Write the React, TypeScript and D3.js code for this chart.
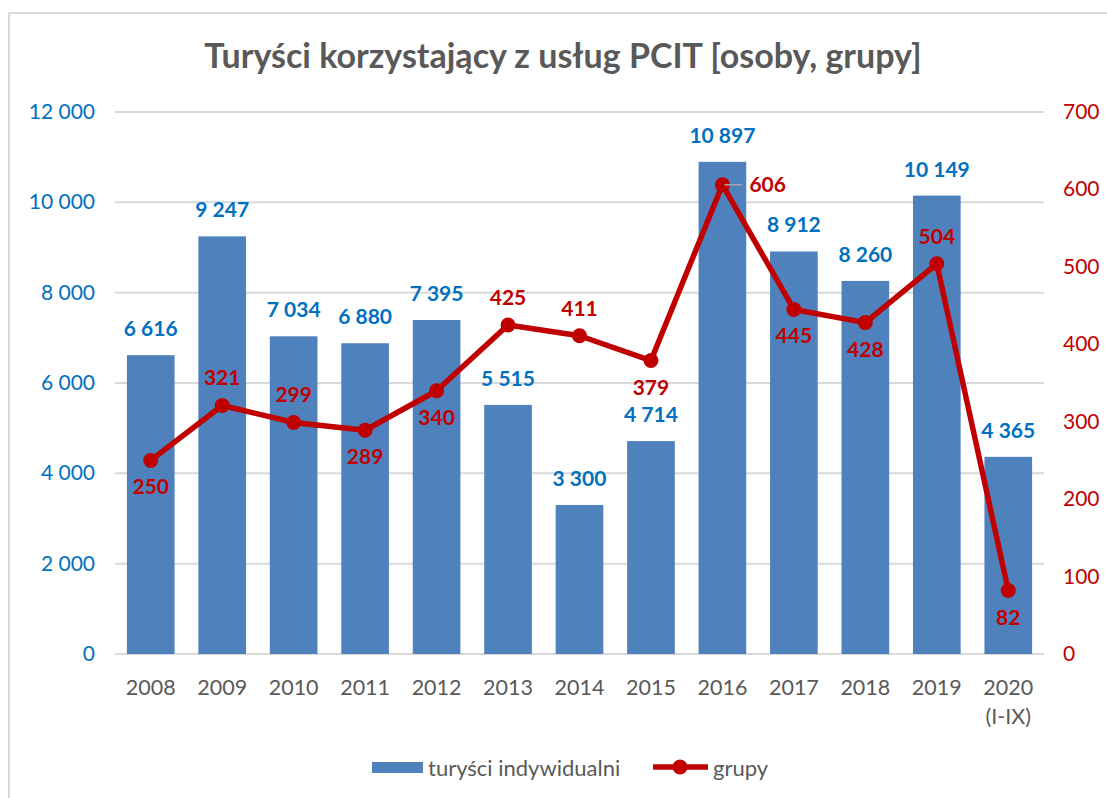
import React from "react";
import * as d3 from "d3";

const categories = ["2008", "2009", "2010", "2011", "2012", "2013", "2014", "2015", "2016", "2017", "2018", "2019", "2020\n(I-IX)"];
const individuals = [6616, 9247, 7034, 6880, 7395, 5515, 3300, 4714, 10897, 8912, 8260, 10149, 4365];
const groups = [250, 321, 299, 289, 340, 425, 411, 379, 606, 445, 428, 504, 82];
const groupLabelPos = ["below", "above", "above", "below", "below", "above", "above", "below", "right", "below", "below", "above", "below"];
const leftTicks = [0, 2000, 4000, 6000, 8000, 10000, 12000];
const rightTicks = [0, 100, 200, 300, 400, 500, 600, 700];
const title = "Turyści korzystający z usług PCIT [osoby, grupy]";
const seriesNames = ["turyści indywidualni", "grupy"];

const W = 1107, H = 798;
const FONT = "Lato, 'Open Sans', sans-serif";
const BAR = "#4F81BD";
const LINE = "#C00000";
const BLUE_TXT = "#0070C0";
const RED_TXT = "#C00000";
const GRAY = "#595959";

const fmt = (v: number) => {
  const s = String(v);
  return s.length > 3 ? s.slice(0, s.length - 3) + " " + s.slice(s.length - 3) : s;
};

export default function App() {
  const x = d3.scaleBand<string>().domain(categories).range([115, 1044]).paddingInner(0.333).paddingOuter(0.1665);
  const yL = d3.scaleLinear().domain([0, 12000]).range([654, 112]);
  const yR = d3.scaleLinear().domain([0, 700]).range([654, 112]);
  const cx = (c: string) => (x(c) as number) + x.bandwidth() / 2;
  const line = d3.line<number>().x((_, i) => cx(categories[i])).y((d) => yR(d));

  return (
    <svg width={W} height={H} style={{ position: "absolute", left: 0, top: 0, background: "#fff" }} fontFamily={FONT}>
      <rect x={9} y={13} width={W + 20} height={H + 20} fill="#fff" stroke="#D9D9D9" strokeWidth={2} />
      <text x={563} y={68} textAnchor="middle" fontSize={34} fontWeight="bold" fill={GRAY}>{title}</text>

      {leftTicks.map((t) => (
        <g key={"l" + t}>
          <line x1={115} x2={1044} y1={yL(t)} y2={yL(t)} stroke="#D9D9D9" strokeWidth={2} />
          <text x={95} y={yL(t) + 7} textAnchor="end" fontSize={21} fill={BLUE_TXT}>{fmt(t)}</text>
        </g>
      ))}
      {rightTicks.map((t) => (
        <text key={"r" + t} x={1063} y={yR(t) + 7} textAnchor="start" fontSize={21} fill={RED_TXT}>{t}</text>
      ))}

      {individuals.map((v, i) => (
        <rect key={"b" + i} x={x(categories[i])} y={yL(v)} width={x.bandwidth()} height={yL(0) - yL(v)} fill={BAR} />
      ))}
      {individuals.map((v, i) => (
        <text key={"bl" + i} x={cx(categories[i])} y={yL(v) - 19} textAnchor="middle" fontSize={21} fontWeight="bold" fill={BLUE_TXT}>{fmt(v)}</text>
      ))}

      {categories.map((c, i) => (
        <text key={"c" + i} x={cx(c)} y={695} textAnchor="middle" fontSize={21.5} fill={GRAY}>
          {c.split("\n").map((p, j) => (
            <tspan key={j} x={cx(c)} dy={j === 0 ? 0 : 29}>{p}</tspan>
          ))}
        </text>
      ))}

      <path d={line(groups) || ""} fill="none" stroke={LINE} strokeWidth={5.5} strokeLinejoin="round" />
      {groups.map((v, i) => (
        <circle key={"m" + i} cx={cx(categories[i])} cy={yR(v)} r={7.5} fill={LINE} />
      ))}
      {groups.map((v, i) => {
        const px = cx(categories[i]);
        const py = yR(v);
        const pos = groupLabelPos[i];
        if (pos === "right") {
          return (
            <g key={"gl" + i}>
              <line x1={px + 2} x2={px + 20} y1={py} y2={py} stroke="#A6A6A6" strokeWidth={1.5} />
              <text x={px + 27} y={py + 7} textAnchor="start" fontSize={21} fontWeight="bold" fill={RED_TXT}>{v}</text>
            </g>
          );
        }
        const ty = pos === "above" ? py - 20 : py + 34;
        return (
          <text key={"gl" + i} x={px} y={ty} textAnchor="middle" fontSize={21} fontWeight="bold" fill={RED_TXT}>{v}</text>
        );
      })}

      <rect x={372} y={762} width={51} height={11} fill={BAR} />
      <text x={428} y={776} fontSize={22} fill={GRAY}>{seriesNames[0]}</text>
      <line x1={653} x2={708} y1={767} y2={767} stroke={LINE} strokeWidth={5.5} />
      <circle cx={680} cy={767} r={7.5} fill={LINE} />
      <text x={713} y={776} fontSize={22} fill={GRAY}>{seriesNames[1]}</text>
    </svg>
  );
}
